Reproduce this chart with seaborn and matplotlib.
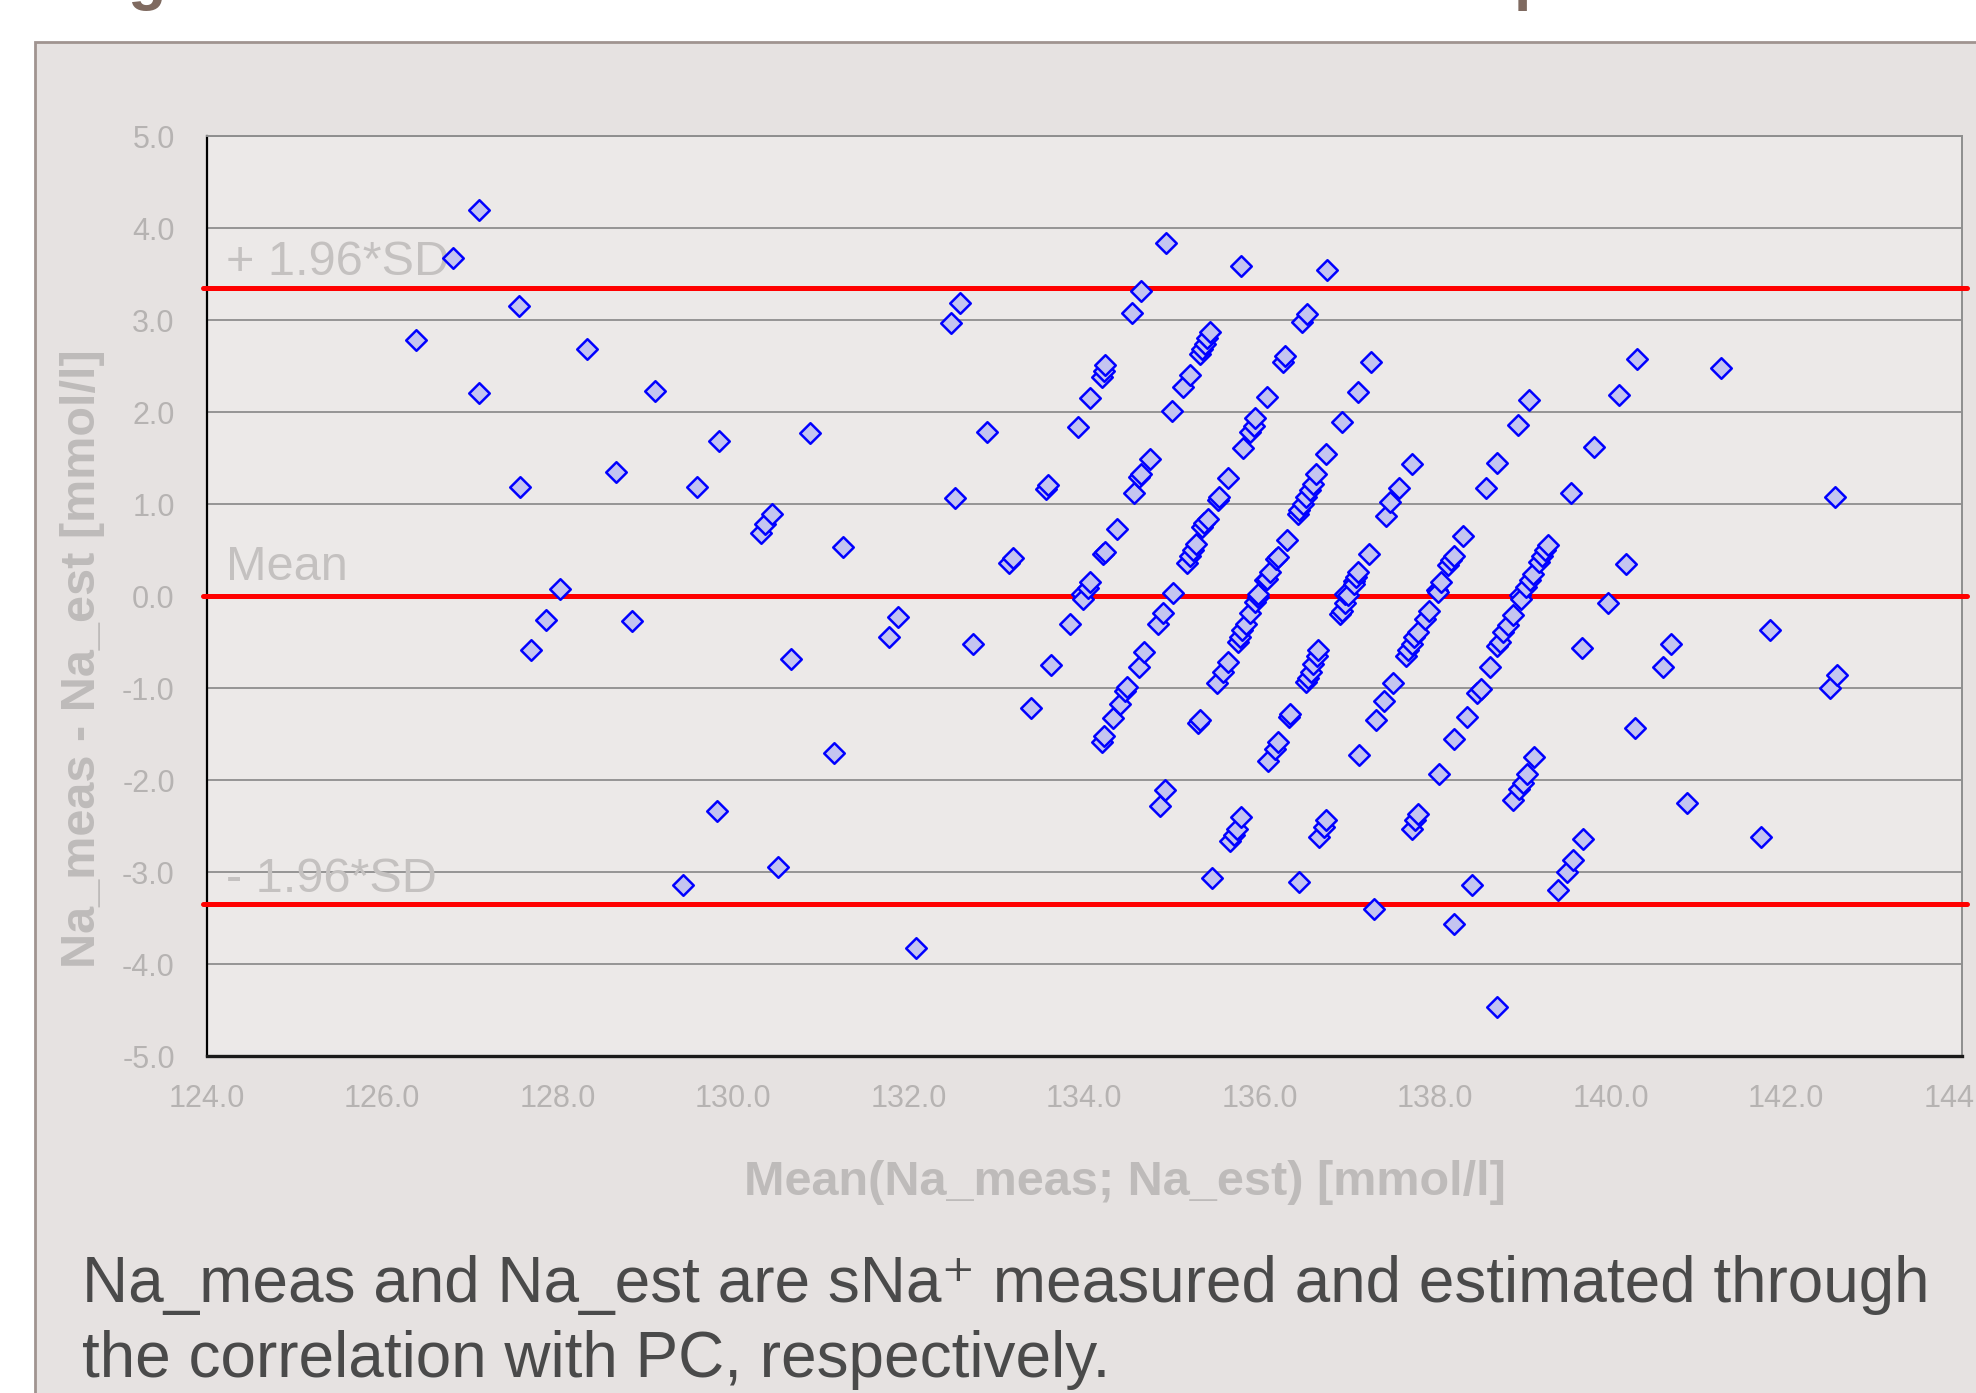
import numpy as np
import pandas as pd
import seaborn as sns
import matplotlib.pyplot as plt
from matplotlib.patches import Rectangle

# Bland-Altman data: mean of the two methods vs. their difference [mmol/l]
mean_na = [
    126.38, 126.81, 127.10, 127.10, 127.56, 127.57, 127.70, 127.87, 128.03, 128.33,
    128.66, 128.85, 129.11, 129.43, 129.59, 129.81, 129.84, 130.32, 130.36, 130.44,
    130.51, 130.66, 130.87, 131.15, 131.25, 131.77, 131.88, 132.08, 132.48, 132.59,
    132.53, 132.73, 132.89, 133.14, 133.19, 133.39, 133.57, 133.59, 133.62, 133.84,
    133.93, 133.97, 133.99, 134.04, 134.07, 134.07, 134.20, 134.22, 134.24, 134.21,
    134.24, 134.37, 134.20, 134.22, 134.33, 134.41, 134.46, 134.49, 134.54, 134.57,
    134.63, 134.65, 134.65, 134.62, 134.68, 134.75, 134.84, 134.86, 134.90, 134.92,
    134.93, 135.00, 135.01, 135.13, 135.17, 135.20, 135.20, 135.24, 135.27, 135.30,
    135.32, 135.32, 135.34, 135.34, 135.37, 135.38, 135.40, 135.41, 135.43, 135.46,
    135.51, 135.52, 135.54, 135.58, 135.64, 135.64, 135.66, 135.71, 135.74, 135.75,
    135.77, 135.79, 135.79, 135.80, 135.81, 135.84, 135.89, 135.89, 135.93, 135.95,
    135.95, 135.98, 135.98, 136.06, 136.08, 136.08, 136.10, 136.12, 136.17, 136.19,
    136.21, 136.21, 136.27, 136.29, 136.31, 136.33, 136.34, 136.44, 136.45, 136.45,
    136.48, 136.49, 136.53, 136.53, 136.54, 136.55, 136.57, 136.59, 136.61, 136.61,
    136.64, 136.65, 136.67, 136.68, 136.73, 136.76, 136.76, 136.77, 136.91, 136.94,
    136.94, 136.97, 136.97, 137.01, 137.07, 137.07, 137.10, 137.12, 137.12, 137.13,
    137.24, 137.27, 137.30, 137.33, 137.42, 137.44, 137.48, 137.52, 137.59, 137.67,
    137.69, 137.73, 137.73, 137.73, 137.76, 137.77, 137.80, 137.80, 137.88, 137.93,
    138.02, 138.03, 138.04, 138.07, 138.15, 138.18, 138.21, 138.21, 138.21, 138.32,
    138.36, 138.42, 138.48, 138.52, 138.58, 138.62, 138.70, 138.74, 138.70, 138.70,
    138.77, 138.83, 138.89, 138.89, 138.94, 138.95, 138.97, 138.98, 139.00, 139.04,
    139.05, 139.07, 139.08, 139.12, 139.13, 139.18, 139.22, 139.25, 139.29, 139.40,
    139.50, 139.55, 139.57, 139.67, 139.69, 139.81, 139.97, 140.10, 140.18, 140.28,
    140.30, 140.60, 140.69, 140.87, 141.26, 141.71, 141.82, 142.50, 142.56, 142.58,
]
diff_na = [
    2.78, 3.67, 4.20, 2.21, 3.15, 1.18, -0.59, -0.26, 0.08, 2.68,
    1.35, -0.27, 2.23, -3.14, 1.19, -2.34, 1.68, 0.68, 0.78, 0.89,
    -2.95, -0.69, 1.77, -1.71, 0.53, -0.45, -0.23, -3.83, 2.97, 3.18,
    1.06, -0.52, 1.78, 0.36, 0.41, -1.22, 1.16, 1.21, -0.75, -0.30,
    1.84, 0.02, -0.03, 0.09, 0.15, 2.15, 2.38, 2.45, 2.51, 0.46,
    0.48, 0.73, -1.59, -1.52, -1.33, -1.17, -1.03, -0.99, 3.08, 1.12,
    1.29, 1.33, 3.32, -0.77, -0.61, 1.49, -0.30, -2.28, -0.18, -2.11,
    3.84, 2.01, 0.03, 2.27, 0.36, 0.43, 2.40, 0.50, 0.57, -1.38,
    -1.35, 2.63, 2.69, 0.75, 0.79, 2.74, 2.80, 0.84, 2.87, -3.07,
    -0.95, 1.04, 1.08, -0.83, -0.72, 1.28, -2.66, -2.60, -2.53, -0.50,
    -0.45, -2.40, 3.59, -0.37, 1.61, -0.30, -0.19, 1.78, 1.85, 1.93,
    -0.06, -0.01, 0.02, 0.17, 0.19, 2.16, -1.79, 0.26, -1.66, 0.40,
    0.42, -1.59, 2.54, 2.61, 0.61, -1.31, -1.28, 0.89, 0.93, -3.11,
    2.98, 1.00, 1.08, -0.93, 3.07, -0.89, 1.15, -0.83, 1.22, -0.74,
    1.33, -0.65, -0.59, -2.62, -2.51, -2.43, 1.54, 3.54, -0.20, -0.16,
    1.89, -0.08, 0.02, 0.01, 0.16, 0.13, 0.21, 0.26, 2.22, -1.73,
    0.46, 2.54, -3.40, -1.35, -1.14, 0.87, 1.02, -0.95, 1.17, -0.65,
    -0.59, -0.52, -2.53, 1.44, -0.45, -2.44, -0.39, -2.37, -0.25, -0.16,
    0.06, 0.04, -1.93, 0.15, 0.34, 0.39, 0.44, -1.55, -3.57, 0.65,
    -1.31, -3.14, -1.05, -1.01, 1.17, -0.77, -0.54, -0.50, 1.45, -4.47,
    -0.39, -0.31, -0.21, -2.22, 1.86, -2.10, 0.01, -0.03, -2.03, 0.10,
    -1.94, 2.13, 0.17, 0.24, -1.75, 0.37, 0.43, 0.50, 0.55, -3.20,
    -3.00, 1.12, -2.87, -0.57, -2.64, 1.62, -0.08, 2.19, 0.35, -1.43,
    2.58, -0.77, -0.52, -2.25, 2.48, -2.62, -0.37, -1.00, 1.08, -0.86,
]

limit_names = ["+ 1.96*SD", "Mean", "- 1.96*SD"]
limit_values = [3.35, 0.0, -3.35]
label_y = [3.49, 0.17, -3.22]

x_ticks = [124.0, 126.0, 128.0, 130.0, 132.0, 134.0, 136.0, 138.0, 140.0, 142.0, 144.0]
y_ticks = [-5.0, -4.0, -3.0, -2.0, -1.0, 0.0, 1.0, 2.0, 3.0, 4.0, 5.0]

sns.set_theme(style="white")
plt.rcParams['font.family'] = ['Liberation Sans', 'DejaVu Sans']

W, H = 1976, 1393
fig = plt.figure(figsize=(W / 100, H / 100), dpi=100)
fig.patch.set_facecolor('white')

# grey slide panel behind the chart
fig.add_artist(Rectangle((35 / W, -0.01), 1.0, 1 - 42 / H + 0.01,
                         transform=fig.transFigure, facecolor='#e6e2e1',
                         edgecolor='#a09490', lw=2, zorder=0))

# descenders of the cut-off slide title
for ch, px in [("g", 127), ("p", 1514)]:
    fig.text(px / W, 1 + 2 / H, ch, fontsize=45, fontweight='bold',
             color='#7f6a60', va='baseline')

ax = fig.add_axes([206.7 / W, 1 - 1056 / H, 1755 / W, 920 / H])
ax.set_facecolor('#ece9e8')

df = pd.DataFrame({"mean": mean_na, "diff": diff_na})

for v in limit_values:
    ax.plot([123.96, 144.06], [v, v], color='#ff0000', lw=3.6,
            clip_on=False, zorder=3)

sns.scatterplot(data=df, x="mean", y="diff", marker='D', s=110,
                color='#c4c4f0', edgecolor='#0000ff', linewidth=1.8,
                ax=ax, zorder=4)

for name, ty in zip(limit_names, label_y):
    ax.text(124.22, ty, name, fontsize=35, color='#c4c1c0', va='baseline',
            zorder=2)

ax.set_xlim(124, 144)
ax.set_ylim(-5, 5)
ax.set_xticks(x_ticks)
ax.set_xticklabels([f"{t:.1f}" for t in x_ticks])
ax.set_yticks(y_ticks)
ax.set_yticklabels([f"{t:.1f}" for t in y_ticks])
ax.yaxis.grid(True, color='#8e8e8e', lw=1.3)
ax.xaxis.grid(False)
ax.set_axisbelow(True)

ax.spines['left'].set_color('black')
ax.spines['left'].set_linewidth(1.6)
ax.spines['bottom'].set_color('#1a1a1a')
ax.spines['bottom'].set_linewidth(2.4)
for s in ['top', 'right']:
    ax.spines[s].set_color('#8e8e8e')
    ax.spines[s].set_linewidth(1.4)

ax.tick_params(axis='both', direction='out', length=9, width=1.6,
               color='black', labelsize=22, labelcolor='#b6b3b2')
ax.tick_params(axis='y', pad=14)
ax.tick_params(axis='x', pad=11)

ax.set_xlabel("Mean(Na_meas; Na_est) [mmol/l]", fontsize=35,
              fontweight='bold', color='#bebbba', va='baseline')
ax.xaxis.set_label_coords(0.523, -0.151)
ax.set_ylabel("Na_meas - Na_est [mmol/l]", fontsize=35,
              fontweight='bold', color='#bebbba', va='center')
ax.yaxis.set_label_coords(-0.071, 0.4315)

fig.text(82 / W, 1 - 1302 / H,
         "Na_meas and Na_est are sNa\u207a measured and estimated through",
         fontsize=46, color='#4a4a4a', va='baseline')
fig.text(82 / W, 1 - 1377 / H, "the correlation with PC, respectively.",
         fontsize=46, color='#4a4a4a', va='baseline')

fig.savefig("out.png", dpi=100)
